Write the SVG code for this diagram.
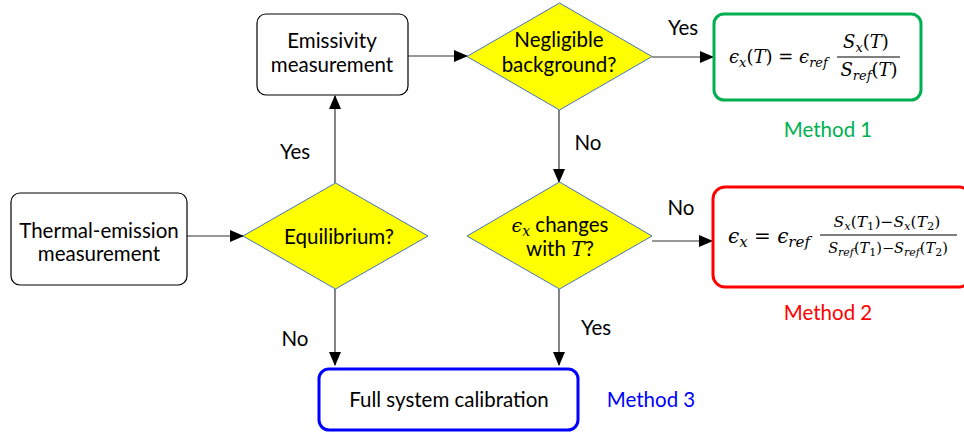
<svg xmlns="http://www.w3.org/2000/svg" width="964" height="434" viewBox="0 0 964 434">
<defs>
<marker id="ah" markerUnits="userSpaceOnUse" markerWidth="14" markerHeight="12" refX="13" refY="6" orient="auto">
<path d="M0,0 L14,6 L0,12 z" fill="#000"/>
</marker>
<style>
.lbl{font-family:Lato,"Open Sans",sans-serif;font-size:20.5px;fill:#000;text-anchor:middle}
.box{fill:#fff;stroke:#000;stroke-width:1.2}
.dia{fill:#FFFF00;stroke:#4472C4;stroke-width:1}
.conn{stroke:#333;stroke-width:1.2;fill:none;marker-end:url(#ah)}
.math{font-family:"DejaVu Serif","Liberation Serif",serif;font-style:italic;fill:#000}
.up{font-style:normal}
</style>
</defs>
<rect width="964" height="434" fill="#fff"/>
<g id="connectors">
<line class="conn" x1="187" y1="236" x2="243" y2="236"/>
<line class="conn" x1="335" y1="183" x2="335" y2="96"/>
<line class="conn" x1="408" y1="56" x2="467" y2="56"/>
<line class="conn" x1="652" y1="57" x2="713" y2="57"/>
<line class="conn" x1="559" y1="110" x2="559" y2="182"/>
<line class="conn" x1="652" y1="241" x2="712" y2="241"/>
<line class="conn" x1="335" y1="289" x2="335" y2="365"/>
<line class="conn" x1="559" y1="289" x2="559" y2="365"/>
<text class="lbl" x="295" y="159">Yes</text>
<text class="lbl" x="683" y="35">Yes</text>
<text class="lbl" x="588" y="150">No</text>
<text class="lbl" x="681" y="215">No</text>
<text class="lbl" x="295" y="346">No</text>
<text class="lbl" x="596" y="335">Yes</text>
</g>
<g id="thermal">
<rect class="box" x="11" y="193" width="176" height="92" rx="9"/>
<text class="lbl" x="99" y="238">Thermal-emission</text>
<text class="lbl" x="99" y="261">measurement</text>
</g>
<g id="emissivity">
<rect class="box" x="257" y="14" width="151" height="81" rx="9"/>
<text class="lbl" x="332" y="48">Emissivity</text>
<text class="lbl" x="332" y="72">measurement</text>
</g>
<g id="equilibrium">
<polygon class="dia" points="335.5,183 428,236 335.5,289 243,236"/>
<text class="lbl" x="339" y="244">Equilibrium?</text>
</g>
<g id="negligible">
<polygon class="dia" points="559.5,3 652,56.5 559.5,110 467,56.5"/>
<text class="lbl" x="559" y="47">Negligible</text>
<text class="lbl" x="559" y="72">background?</text>
</g>
<g id="changes">
<polygon class="dia" points="559.5,182 652,236 559.5,289 467,236"/>
<text class="lbl" x="560" y="232"><tspan class="math" font-size="19" font-family="Liberation Serif,serif">ϵ<tspan font-size="14" dy="4">x</tspan></tspan><tspan dy="-4"> changes</tspan></text>
<text class="lbl" x="560" y="256">with <tspan class="math" font-family="Liberation Serif,serif">T</tspan>?</text>
</g>
<g id="method1">
<rect x="714" y="14" width="207" height="86" rx="10" fill="#fff" stroke="#00B050" stroke-width="3"/>
<text class="math" x="729" y="63" font-size="18">ϵ<tspan font-size="13" dy="4">x</tspan><tspan class="up" dy="-4">(</tspan>T<tspan class="up">) = </tspan>ϵ<tspan font-size="13" dy="4">ref</tspan></text>
<line x1="837" y1="57" x2="900" y2="57" stroke="#000" stroke-width="1.2"/>
<text class="math" x="866" y="48" font-size="18" text-anchor="middle">S<tspan font-size="13" dy="4">x</tspan><tspan class="up" dy="-4">(</tspan>T<tspan class="up">)</tspan></text>
<text class="math" x="869" y="76" font-size="18" text-anchor="middle">S<tspan font-size="13" dy="4">ref</tspan><tspan class="up" dy="-4">(</tspan>T<tspan class="up">)</tspan></text>
<text x="828" y="137" font-family="Lato,'Open Sans',sans-serif" font-size="20.5" fill="#00B050" text-anchor="middle">Method 1</text>
</g>
<g id="method2">
<rect x="713" y="187" width="258" height="100" rx="12" fill="#fff" stroke="#FF0000" stroke-width="3"/>
<text class="math" x="728" y="243" font-size="20">ϵ<tspan font-size="15" dy="4">x</tspan><tspan class="up" dy="-4"> = </tspan>ϵ<tspan font-size="15" dy="4">ref</tspan></text>
<line x1="820" y1="235" x2="957" y2="235" stroke="#000" stroke-width="1.2"/>
<text class="math" x="887" y="227" font-size="15.5" text-anchor="middle">S<tspan font-size="11.5" dy="3">x</tspan><tspan class="up" dy="-3">(</tspan>T<tspan class="up" font-size="11.5" dy="3">1</tspan><tspan class="up" dy="-3">)−</tspan>S<tspan font-size="11.5" dy="3">x</tspan><tspan class="up" dy="-3">(</tspan>T<tspan class="up" font-size="11.5" dy="3">2</tspan><tspan class="up" dy="-3">)</tspan></text>
<text class="math" x="888" y="253" font-size="14.5" text-anchor="middle">S<tspan font-size="11" dy="3">ref</tspan><tspan class="up" dy="-3">(</tspan>T<tspan class="up" font-size="11" dy="3">1</tspan><tspan class="up" dy="-3">)−</tspan>S<tspan font-size="11" dy="3">ref</tspan><tspan class="up" dy="-3">(</tspan>T<tspan class="up" font-size="11" dy="3">2</tspan><tspan class="up" dy="-3">)</tspan></text>
<text x="828" y="320" font-family="Lato,'Open Sans',sans-serif" font-size="20.5" fill="#FF0000" text-anchor="middle">Method 2</text>
</g>
<g id="calibration">
<rect x="319" y="369" width="259" height="61" rx="10" fill="#fff" stroke="#0000FF" stroke-width="3"/>
<text class="lbl" x="449" y="407">Full system calibration</text>
<text x="651" y="407" font-family="Lato,'Open Sans',sans-serif" font-size="20.5" fill="#0000FF" text-anchor="middle">Method 3</text>
</g>
</svg>
